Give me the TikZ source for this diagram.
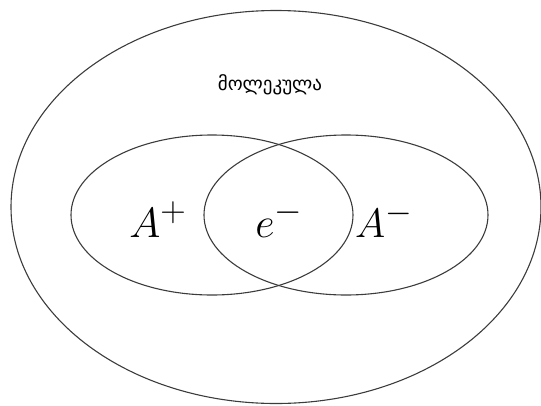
\documentclass[tikz,border=0pt]{standalone}
\usepackage{fontspec}
\newfontfamily\geofont{DejaVu Sans}
\usetikzlibrary{shapes.geometric}
\definecolor{LineGray}{RGB}{60,60,60}

\begin{document}
\begin{tikzpicture}[x=1pt, y=-1pt,
    ring/.style={ellipse, draw=LineGray, line width=1.1pt, inner sep=0pt},
    ion/.style={font=\Huge, anchor=base, inner sep=0pt}
  ]
  \useasboundingbox (0,0) rectangle (541,405);

  % Molecule
  \node[ring, minimum width=530, minimum height=393] (mol) at (276,207) {};
  \node[font=\geofont\fontsize{19}{22}\selectfont] (molname) at (270,85) {მოლეკულა};

  % Overlapping ions
  \node[ring, minimum width=282, minimum height=160] (pos) at (212,215) {};
  \node[ring, minimum width=284, minimum height=160] (neg) at (346,215) {};

  % Labels
  \node[ion] (aplus) at (158,237) {\scalebox{1.7}{$A^{+}$}};
  \node[ion] (elec) at (279,237) {\scalebox{1.7}{$e^{-}$}};
  \node[ion] (aminus) at (384,237) {\scalebox{1.65}{$A^{-}$}};
\end{tikzpicture}
\end{document}
